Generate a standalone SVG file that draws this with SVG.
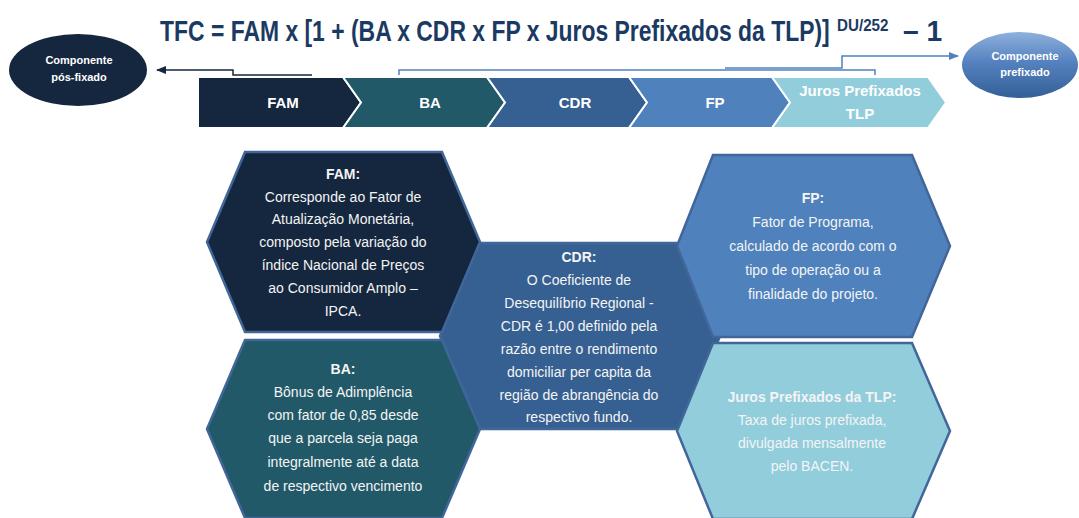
<svg xmlns="http://www.w3.org/2000/svg" width="1079" height="518" viewBox="0 0 1079 518">
<defs>
<linearGradient id="gPre" x1="0" y1="0" x2="0" y2="1">
<stop offset="0" stop-color="#8fb1dc"/>
<stop offset="0.45" stop-color="#5582c0"/>
<stop offset="1" stop-color="#345f97"/>
</linearGradient>
<marker id="arrDark" markerWidth="10" markerHeight="10" refX="9" refY="5" orient="auto" markerUnits="userSpaceOnUse">
<path d="M0,1 L10,5 L0,9 Z" fill="#14273f"/>
</marker>
<marker id="arrBlue" markerWidth="10" markerHeight="10" refX="9" refY="5" orient="auto" markerUnits="userSpaceOnUse">
<path d="M0,1 L10,5 L0,9 Z" fill="#4f81bd"/>
</marker>
</defs>
<style>
text{font-family:"Liberation Sans",Arial,sans-serif;}
.title{font-weight:bold;fill:#1b3a63;}
.chev{stroke:#ffffff;stroke-width:2;}
.clab{font-size:15px;font-weight:bold;fill:#ffffff;text-anchor:middle;}
.elab{font-size:11px;font-weight:bold;fill:#ffffff;text-anchor:middle;}
.hex{stroke:#41669a;stroke-width:2.5;}
.ht{font-size:14px;fill:#f4f4f4;text-anchor:middle;}
.hb{font-weight:bold;}
</style>
<rect width="1079" height="518" fill="#ffffff"/>

<g id="title">
<text class="title" font-size="30" transform="translate(160,41) scale(0.764,1)">TFC = FAM x [1 + (BA x CDR x FP x Juros Prefixados da TLP)]</text>
<text class="title" x="837" y="31" font-size="16" transform="translate(837,0) scale(0.95,1) translate(-837,0)">DU/252</text>
<text class="title" x="903" y="41" font-size="30" transform="translate(903,0) scale(0.94,1) translate(-903,0)">– 1</text>
</g>

<g id="connectors" fill="none" stroke-width="1.5">
<polyline points="312,75 233,75 233,70 157,70" stroke="#14273f" marker-end="url(#arrDark)"/>
<polyline points="399,75 399,70 875,70 875,75" stroke="#4f81bd"/>
<polyline points="725,68 842,68 842,56 958,56" stroke="#4f81bd" marker-end="url(#arrBlue)"/>
</g>

<g id="pos-fixado">
<ellipse cx="78" cy="70" rx="69" ry="36" fill="#14273f"/>
<text class="elab" x="79" y="64">Componente</text>
<text class="elab" x="79" y="81">pós-fixado</text>
</g>

<g id="prefixado">
<ellipse cx="1020" cy="65" rx="58" ry="33" fill="url(#gPre)"/>
<text class="elab" x="1025" y="60" fill="#eef3fa">Componente</text>
<text class="elab" x="1025" y="76" fill="#eef3fa">prefixado</text>
</g>

<g id="chev-fam">
<polygon class="chev" points="198,77 343,77 361,102.5 343,128 198,128" fill="#14273f"/>
<text class="clab" x="283" y="108">FAM</text>
</g>
<g id="chev-ba">
<polygon class="chev" points="343,77 487,77 505,102.5 487,128 343,128 361,102.5" fill="#215968"/>
<text class="clab" x="430" y="108">BA</text>
</g>
<g id="chev-cdr">
<polygon class="chev" points="487,77 629,77 647,102.5 629,128 487,128 505,102.5" fill="#366092"/>
<text class="clab" x="575" y="108">CDR</text>
</g>
<g id="chev-fp">
<polygon class="chev" points="629,77 772,77 790,102.5 772,128 629,128 647,102.5" fill="#4f81bd"/>
<text class="clab" x="715" y="108">FP</text>
</g>
<g id="chev-juros">
<polygon class="chev" points="772,77 928,77 946,102.5 928,128 772,128 790,102.5" fill="#92cddc"/>
<text class="clab" x="860" y="96" fill="#f2f9fb">Juros Prefixados</text>
<text class="clab" x="860" y="119" fill="#f2f9fb">TLP</text>
</g>

<g id="hex-cdr">
<polygon class="hex" points="477,243 683,243 720,336 683,429 477,429 440,336" fill="#366092"/>
<text class="ht" x="579"><tspan class="hb" x="579" y="262">CDR:</tspan><tspan x="579" y="285">O Coeficiente de</tspan><tspan x="579" y="308">Desequilíbrio Regional -</tspan><tspan x="579" y="331">CDR é 1,00 definido pela</tspan><tspan x="579" y="354">razão entre o rendimento</tspan><tspan x="579" y="377">domiciliar per capita da</tspan><tspan x="579" y="400">região de abrangência do</tspan><tspan x="579" y="422">respectivo fundo.</tspan></text>
</g>

<g id="hex-fam">
<polygon class="hex" points="245,152 442,152 480,242 442,332 245,332 207,242" fill="#14273f"/>
<text class="ht" x="343"><tspan class="hb" x="343" y="179">FAM:</tspan><tspan x="343" y="202">Corresponde ao Fator de</tspan><tspan x="343" y="224">Atualização Monetária,</tspan><tspan x="343" y="247">composto pela variação do</tspan><tspan x="343" y="270">índice Nacional de Preços</tspan><tspan x="343" y="293">ao Consumidor Amplo –</tspan><tspan x="343" y="316">IPCA.</tspan></text>
</g>

<g id="hex-ba">
<polygon class="hex" points="245,340 442,340 480,429 442,518 245,518 207,429" fill="#215968"/>
<text class="ht" x="343"><tspan class="hb" x="343" y="374">BA:</tspan><tspan x="343" y="397">Bônus de Adimplência</tspan><tspan x="343" y="420">com fator de 0,85 desde</tspan><tspan x="343" y="443">que a parcela seja paga</tspan><tspan x="343" y="467">integralmente até a data</tspan><tspan x="343" y="491">de respectivo vencimento</tspan></text>
</g>

<g id="hex-fp">
<polygon class="hex" points="713,155 912,155 950,246 912,337 713,337 677,246" fill="#4f81bd"/>
<text class="ht" x="813"><tspan class="hb" x="813" y="203">FP:</tspan><tspan x="813" y="227">Fator de Programa,</tspan><tspan x="813" y="251">calculado de acordo com o</tspan><tspan x="813" y="275">tipo de operação ou a</tspan><tspan x="813" y="299">finalidade do projeto.</tspan></text>
</g>

<g id="hex-juros">
<polygon class="hex" points="713,343 912,343 950,431 912,519 713,519 677,431" fill="#92cddc"/>
<text class="ht" x="812"><tspan class="hb" x="812" y="402">Juros Prefixados da TLP:</tspan><tspan x="812" y="425">Taxa de juros prefixada,</tspan><tspan x="812" y="448">divulgada mensalmente</tspan><tspan x="812" y="471">pelo BACEN.</tspan></text>
</g>
</svg>
